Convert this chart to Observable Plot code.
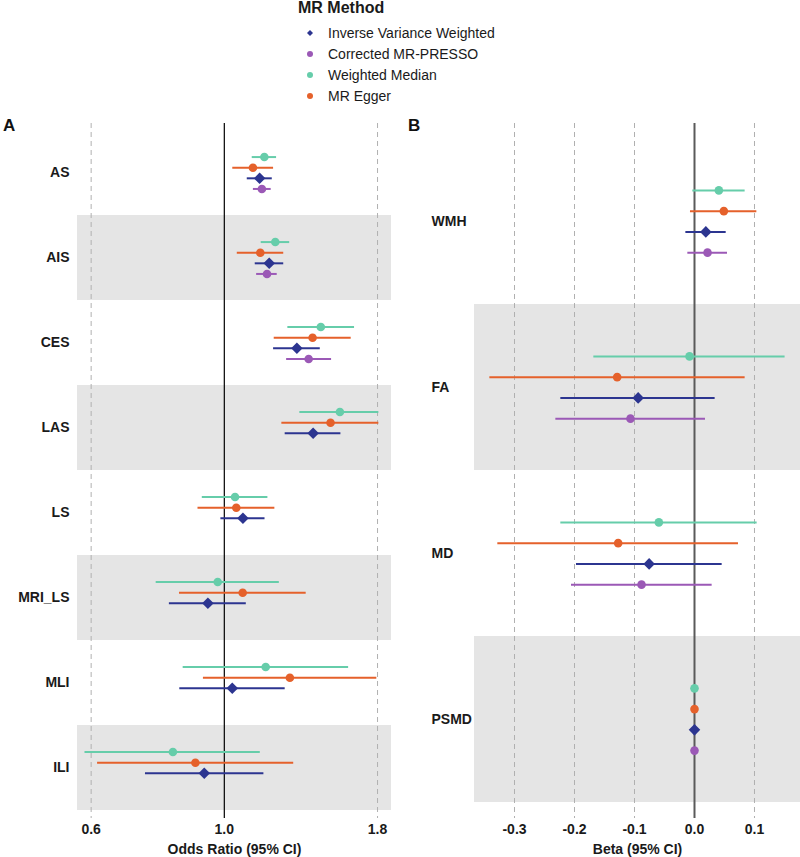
<!DOCTYPE html>
<html><head><meta charset="utf-8">
<script src="https://cdn.jsdelivr.net/npm/d3@7"></script>
<script src="https://cdn.jsdelivr.net/npm/@observablehq/plot@0.6"></script>
<style>
body{margin:0;background:#fff;font-family:"Liberation Sans",Arial,sans-serif;}
#root{position:relative;width:800px;height:857px;overflow:hidden;background:#fff;}
#root > svg, #root > figure{position:absolute;top:0;margin:0;}
.ptag{position:absolute;font-weight:bold;font-size:17px;color:#111;line-height:1;}
#legend{position:absolute;left:298px;top:0;color:#1a1a1a;}
#legend .ttl{position:absolute;left:0;top:0;font-weight:bold;font-size:16px;white-space:nowrap;line-height:16px;}
#legend .item{position:absolute;left:0;white-space:nowrap;font-size:14px;line-height:14px;}
#legend .item svg{position:absolute;left:6px;top:1px;}
#legend .item span{position:absolute;left:30px;top:0;}
</style>
</head><body>
<div id="root">
  <div id="legend"></div>
  <div class="ptag" style="left:3px;top:117px;">A</div>
  <div class="ptag" style="left:408px;top:117px;">B</div>
</div>
<script>
// ---- data ----
const methods = ["Weighted Median", "MR Egger", "Inverse Variance Weighted", "Corrected MR-PRESSO"];
const legendOrder = ["Inverse Variance Weighted", "Corrected MR-PRESSO", "Weighted Median", "MR Egger"];
const methodColors = ["#66CDAA", "#E5612B", "#2C3590", "#9B59B6"];

// Panel A: odds ratio [estimate, lower, upper]
const outcomesA = ["AS", "AIS", "CES", "LAS", "LS", "MRI_LS", "MLI", "ILI"];
const wmA     = [[1.166,1.113,1.222],[1.216,1.152,1.285],[1.448,1.276,1.648],[1.558,1.336,1.809],[1.042,0.919,1.182],[0.975,0.770,1.235],[1.172,0.854,1.611],[0.821,0.586,1.148]];
const eggerA  = [[1.116,1.033,1.208],[1.148,1.051,1.256],[1.403,1.211,1.627],[1.503,1.247,1.809],[1.047,0.904,1.214],[1.073,0.842,1.369],[1.286,0.923,1.795],[0.895,0.615,1.305]];
const ivwA    = [[1.145,1.092,1.202],[1.188,1.126,1.256],[1.321,1.208,1.445],[1.406,1.263,1.564],[1.074,0.987,1.169],[0.939,0.810,1.088],[1.031,0.843,1.263],[0.926,0.739,1.164]];
const pressoA = [[1.155,1.118,1.197],[1.178,1.132,1.225],[1.382,1.270,1.509],null,null,null,null,null];
const ticksA = [0.6, 1.0, 1.8];

// Panel B: beta [estimate, lower, upper]
const outcomesB = ["WMH", "FA", "MD", "PSMD"];
const wmB     = [[0.0406,-0.0028,0.0844],[-0.0083,-0.1678,0.1510],[-0.0594,-0.2228,0.1044],[0.0000,-0.0004,0.0004]];
const eggerB  = [[0.0489,-0.0067,0.1039],[-0.1289,-0.3411,0.0844],[-0.1272,-0.3278,0.0733],[0.0000,-0.0006,0.0006]];
const ivwB    = [[0.0189,-0.0144,0.0528],[-0.0939,-0.2228,0.0344],[-0.0756,-0.1967,0.0461],[0.0000,-0.0003,0.0003]];
const pressoB = [[0.0217,-0.0111,0.0550],[-0.1067,-0.2311,0.0183],[-0.0883,-0.2050,0.0294],[0.0000,-0.0003,0.0003]];
const ticksB = [-0.3, -0.2, -0.1, 0.0, 0.1];

// ---- build tables ----
function build(outcomes, series) {
  const rows = [];
  outcomes.forEach((o, i) => {
    series.forEach((s, k) => {
      const v = s[i];
      if (v) rows.push({outcome: o, i, method: methods[k], y: i + (k - 1.5) * 0.125, est: v[0], lo: v[1], hi: v[2]});
    });
  });
  return rows;
}
const dataA = build(outcomesA, [wmA, eggerA, ivwA, pressoA]);
const dataB = build(outcomesB, [wmB, eggerB, ivwB, pressoB]);
const isIVW = d => d.method === "Inverse Variance Weighted";

const baseStyle = {fontFamily: "'Liberation Sans', Arial, sans-serif", fontSize: "14px", fontWeight: "bold", color: "#1a1a1a", background: "transparent", overflow: "visible"};

function forest({data, outcomes, xScale, grid, ref, refStroke, refWidth, width, marginLeft, marginRight, yDomain, yTextAnchor, yPadding, xLabel}) {
  const bands = outcomes.map((o, i) => i).filter(i => i % 2 === 1);
  return Plot.plot({
    width, height: 857,
    marginLeft, marginRight, marginTop: 123, marginBottom: 39,
    style: baseStyle,
    x: xScale,
    y: {domain: yDomain, reverse: true},
    color: {domain: methods, range: methodColors},
    marks: [
      Plot.rect(bands, {y1: d => d - 0.5, y2: d => d + 0.5, fill: "#e5e5e5"}),
      Plot.ruleX(grid, {stroke: "#b0b0b0", strokeWidth: 1, strokeDasharray: "5,4"}),
      Plot.ruleX([ref], {stroke: refStroke, strokeWidth: refWidth}),
      Plot.ruleY(data, {x1: "lo", x2: "hi", y: "y", stroke: "method", strokeWidth: 2}),
      Plot.dot(data.filter(d => !isIVW(d)), {x: "est", y: "y", fill: "method", r: 4.3, symbol: "circle"}),
      Plot.dot(data.filter(isIVW), {x: "est", y: "y", fill: "method", r: 5.2, symbol: "diamond2"}),
      Plot.axisX({ticks: xScale.ticks, tickFormat: d => d.toFixed(1), tickSize: 0, tickPadding: 6, label: null}),
      Plot.axisY({ticks: d3.range(outcomes.length), tickFormat: i => outcomes[i], tickSize: 0, tickPadding: yPadding, textAnchor: yTextAnchor, label: null}),
      Plot.text([xLabel], {frameAnchor: "bottom", dy: 35, fontWeight: "bold", fontSize: 14})
    ]
  });
}

const plotA = forest({
  data: dataA, outcomes: outcomesA,
  xScale: {type: "log", domain: [0.5694, 1.899], ticks: ticksA},
  grid: ticksA.filter(t => t !== 1), ref: 1, refStroke: "#000", refWidth: 1.2,
  width: 400, marginLeft: 77, marginRight: 9,
  yDomain: [-0.5824, 7.594], yTextAnchor: "end", yPadding: 8,
  xLabel: "Odds Ratio (95% CI)"
});
plotA.style.left = "0px";

const plotB = forest({
  data: dataB, outcomes: outcomesB,
  xScale: {type: "linear", domain: [-0.36667, 0.17667], ticks: ticksB},
  grid: ticksB.filter(t => t !== 0), ref: 0, refStroke: "#5a5a5a", refWidth: 2,
  width: 400, marginLeft: 74, marginRight: 0,
  yDomain: [-0.5904, 3.5964], yTextAnchor: "start", yPadding: 43,
  xLabel: "Beta (95% CI)"
});
plotB.style.left = "400px";

const root = document.getElementById("root");
root.insertBefore(plotB, root.firstChild);
root.insertBefore(plotA, root.firstChild);

// ---- legend ----
const legend = document.getElementById("legend");
legend.innerHTML = `<div class="ttl">MR Method</div>`;
legendOrder.forEach((m, j) => {
  const c = methodColors[methods.indexOf(m)];
  const item = document.createElement("div");
  item.className = "item";
  item.style.top = (26 + j * 21) + "px";
  const shape = m === "Inverse Variance Weighted"
    ? `<path d="M6,3 L9,6 L6,9 L3,6 Z" fill="${c}"/>`
    : `<circle cx="6" cy="6" r="3" fill="${c}"/>`;
  item.innerHTML = `<svg width="12" height="12">${shape}</svg><span>${m}</span>`;
  legend.appendChild(item);
});
</script>
</body></html>
